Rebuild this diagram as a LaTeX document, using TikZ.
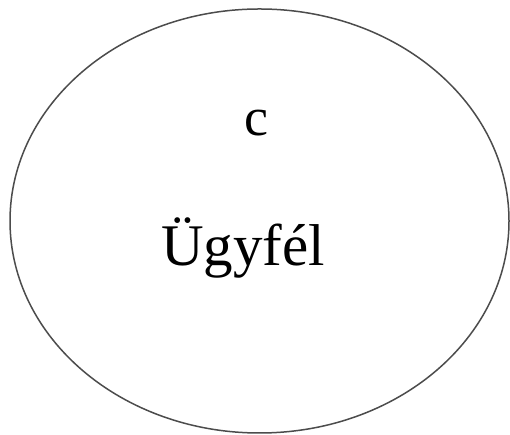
\documentclass[tikz,border=0pt]{standalone}
\usepackage{fontspec}
\setmainfont{Liberation Serif}
\usetikzlibrary{shapes.geometric}
\begin{document}
\begin{tikzpicture}[x=1pt,y=1pt,
  lbl/.style={inner sep=0pt, anchor=base, font=\fontsize{59}{59}\selectfont}]
\useasboundingbox (0,0) rectangle (510,435);
\fill[white] (0,0) rectangle (510,435);
\node[draw=black!70, line width=1.5pt, ellipse, minimum width=499pt, minimum height=424pt, inner sep=0pt] (e) at (259.5,214) {};
\node[lbl, font=\fontsize{54}{54}\selectfont] (c) at (256,299) {c};
\node[lbl] (u) at (243,169) {Ügyfél};
\end{tikzpicture}
\end{document}
